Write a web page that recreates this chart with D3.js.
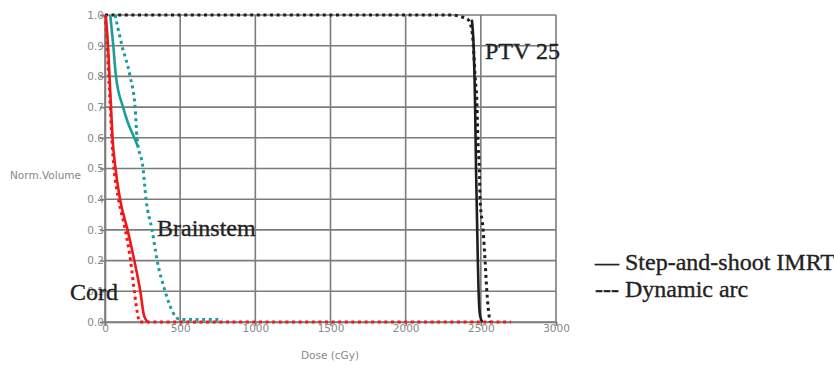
<!DOCTYPE html>
<html lang="en">
<head>
    <meta charset="UTF-8">
    <title>DVH - Step-and-shoot IMRT vs Dynamic arc</title>
    <script src="https://d3js.org/d3.v7.min.js"></script>
    <style>
        body { margin: 0; background: #fff; }
        .tick-label { font-family: "DejaVu Sans", sans-serif; font-size: 10.5px; fill: #888; }
        .big-label { font-family: "Liberation Serif", "Times New Roman", serif; font-size: 24px; fill: #222; stroke: #222; stroke-width: 0.35px; }
    </style>
</head>
<body>
<div id="chart"></div>
<script>
    // tick labels
    const xTicks = [0, 500, 1000, 1500, 2000, 2500, 3000];
    const yTicks = [0, 0.1, 0.2, 0.3, 0.4, 0.5, 0.6, 0.7, 0.8, 0.9, 1.0];

    // Cord
    const cordImrtDose = [5, 20, 30, 40, 50, 70, 100, 150, 195, 235, 260, 285];
    const cordImrtVol  = [1.0, 0.9, 0.8, 0.7, 0.6, 0.5, 0.4, 0.3, 0.2, 0.1, 0.02, 0];
    const cordArcDose  = [0, 15, 25, 35, 45, 60, 90, 135, 170, 195, 215, 230, 2700];
    const cordArcVol   = [1.0, 0.9, 0.8, 0.7, 0.6, 0.5, 0.4, 0.3, 0.2, 0.1, 0.03, 0, 0];

    // Brainstem
    const brainImrtDose = [35, 55, 73, 120, 152, 195, 220];
    const brainImrtVol  = [1.0, 0.9, 0.8, 0.7, 0.65, 0.6, 0.57];
    const brainArcDose  = [67, 113, 167, 200, 213, 253, 273, 313, 347, 400, 453, 500, 780];
    const brainArcVol   = [1.0, 0.9, 0.8, 0.7, 0.6, 0.5, 0.4, 0.3, 0.2, 0.1, 0.03, 0.008, 0.008];

    // PTV 25
    const ptvImrtDose = [2440, 2452, 2458, 2462, 2465, 2468, 2472, 2476, 2480, 2485, 2495, 2510];
    const ptvImrtVol  = [0.985, 0.9, 0.8, 0.7, 0.6, 0.5, 0.4, 0.3, 0.2, 0.1, 0.02, 0];
    const ptvArcDose  = [0, 2300, 2362, 2415, 2442, 2450, 2462, 2475, 2480, 2490, 2495, 2515, 2528, 2540, 2555, 2562];
    const ptvArcVol   = [1.0, 1.0, 0.995, 0.985, 0.945, 0.9, 0.8, 0.7, 0.6, 0.5, 0.4, 0.3, 0.2, 0.1, 0.02, 0];

    const svg = d3.select("#chart").append("svg")
        .attr("width", 834)
        .attr("height", 368);

    const x = d3.scaleLinear().domain([0, 3000]).range([105, 556]);
    const y = d3.scaleLinear().domain([0, 1]).range([322, 15]);

    // grid
    const grid = svg.append("g").attr("stroke", "#7c7c7c").attr("stroke-width", 1.6);
    grid.selectAll(".vg").data(xTicks).enter().append("line")
        .attr("x1", d => x(d)).attr("x2", d => x(d))
        .attr("y1", y(0)).attr("y2", y(1));
    grid.selectAll(".hg").data(yTicks).enter().append("line")
        .attr("x1", x(0)).attr("x2", x(3000))
        .attr("y1", d => y(d)).attr("y2", d => y(d));

    // axes
    const yAxis = svg.append("g")
        .attr("transform", `translate(${x(0)},0)`)
        .call(d3.axisLeft(y).tickValues(yTicks).tickFormat(d3.format(".1f")).tickSize(5).tickPadding(-4));
    const xAxis = svg.append("g")
        .attr("transform", `translate(0,${y(0)})`)
        .call(d3.axisBottom(x).tickValues(xTicks).tickFormat(d3.format("d")).tickSize(4).tickPadding(-1));
    [xAxis, yAxis].forEach(a => {
        a.select(".domain").attr("stroke", "#7c7c7c").attr("stroke-width", 1.6);
        a.selectAll(".tick line").attr("stroke", "#7c7c7c").attr("stroke-width", 1.6);
        a.selectAll(".tick text").attr("class", "tick-label").attr("fill", null);
    });

    svg.append("text").attr("class", "tick-label")
        .attr("x", 10).attr("y", 179)
        .text("Norm.Volume");
    svg.append("text").attr("class", "tick-label")
        .attr("x", 330).attr("y", 359).attr("text-anchor", "middle")
        .text("Dose (cGy)");

    const line = d3.line()
        .x(d => x(d[0]))
        .y(d => y(d[1]))
        .curve(d3.curveMonotoneX);

    const curves = [
        { dose: ptvArcDose, vol: ptvArcVol, color: "#1e1e1e", dashed: true },
        { dose: ptvImrtDose, vol: ptvImrtVol, color: "#1e1e1e", dashed: false },
        { dose: brainImrtDose, vol: brainImrtVol, color: "#1a9e9a", dashed: false },
        { dose: brainArcDose, vol: brainArcVol, color: "#1a9e9a", dashed: true },
        { dose: cordImrtDose, vol: cordImrtVol, color: "#f01818", dashed: false },
        { dose: cordArcDose, vol: cordArcVol, color: "#f01818", dashed: true }
    ];

    svg.selectAll(".curve").data(curves).enter().append("path")
        .attr("class", "curve")
        .attr("fill", "none")
        .attr("stroke", d => d.color)
        .attr("stroke-width", d => d.dashed ? 3 : 2.6)
        .attr("stroke-dasharray", d => d.dashed ? "3,3.6" : null)
        .attr("d", d => line(d.dose.map((v, i) => [v, d.vol[i]])));

    // curve labels
    svg.append("text").attr("class", "big-label").attr("x", 485).attr("y", 59).text("PTV 25");
    svg.append("text").attr("class", "big-label").attr("x", 157).attr("y", 236).text("Brainstem");
    svg.append("text").attr("class", "big-label").attr("x", 70).attr("y", 300).text("Cord");

    // legend
    svg.append("text").attr("class", "big-label").attr("x", 595).attr("y", 270).text("\u2014 Step-and-shoot IMRT");
    svg.append("text").attr("class", "big-label").attr("x", 595).attr("y", 297).text("--- Dynamic arc");
</script>
</body>
</html>
